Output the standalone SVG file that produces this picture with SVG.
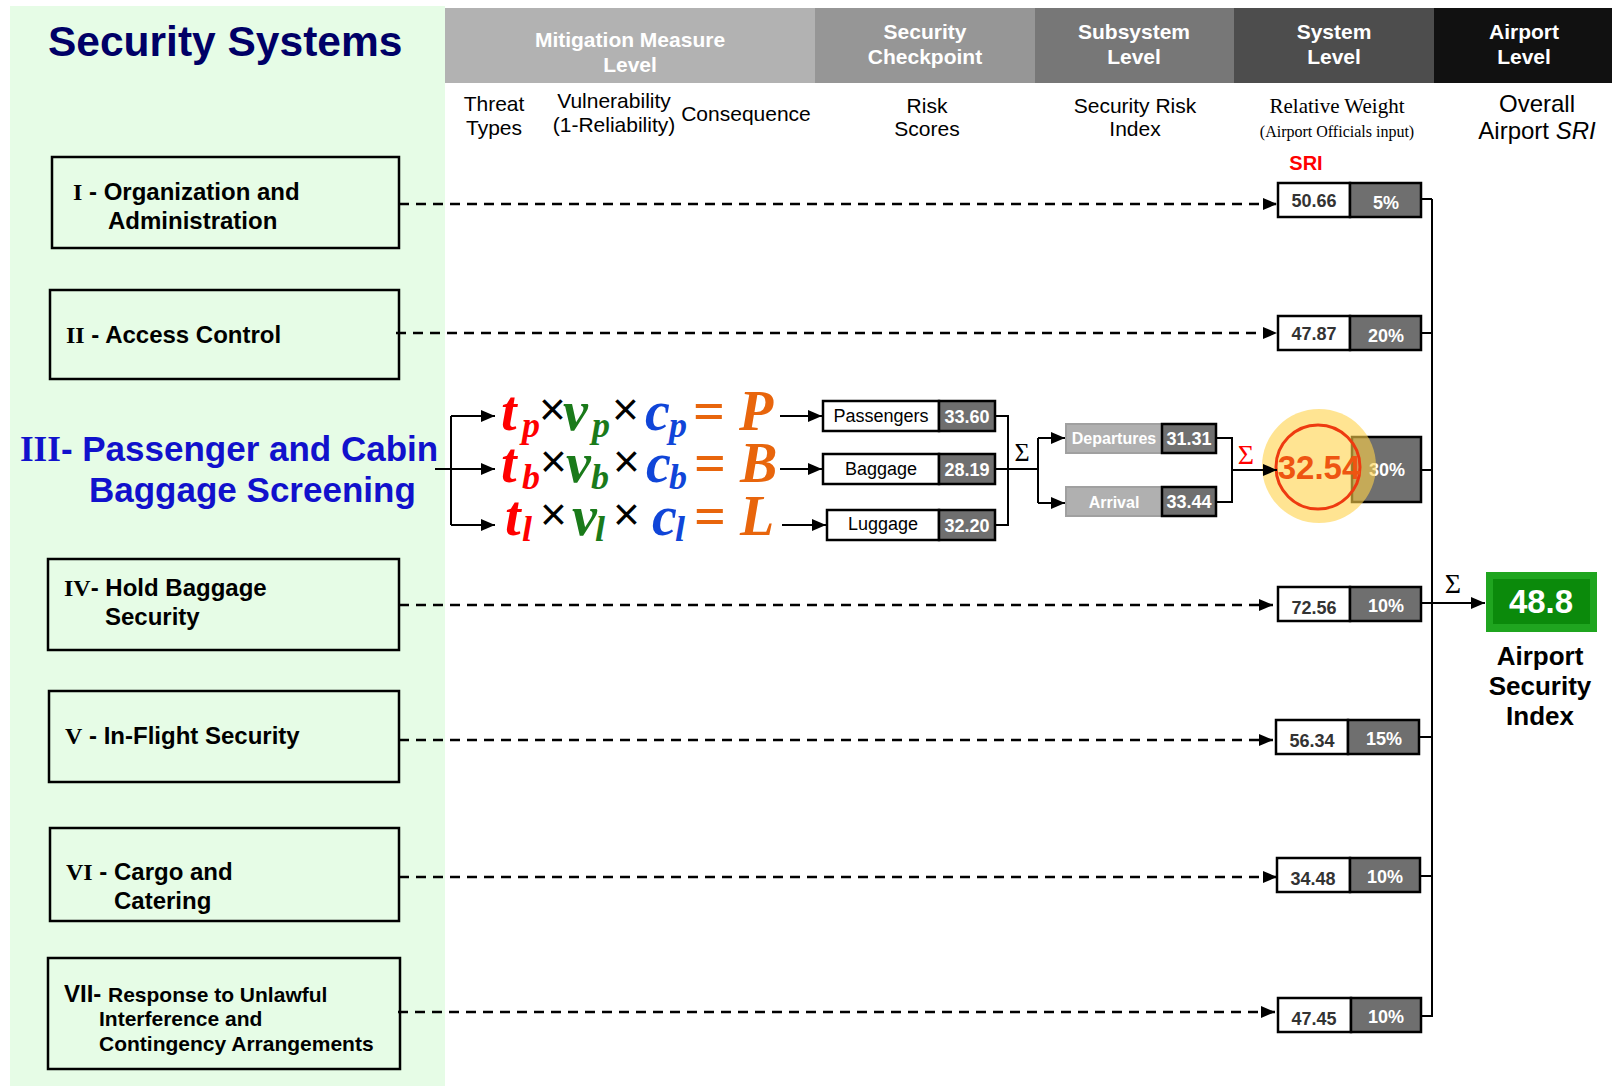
<svg xmlns="http://www.w3.org/2000/svg" width="1612" height="1086" viewBox="0 0 1612 1086">
<style>
.hdr{font-family:"Liberation Sans",Arial,sans-serif;font-weight:bold;font-size:21px;fill:#fff;text-anchor:middle}
.sub{font-family:"Liberation Sans",Arial,sans-serif;font-size:21px;fill:#000;text-anchor:middle}
.ser{font-family:"Liberation Serif","Times New Roman",serif}
.box{fill:none;stroke:#000;stroke-width:2.5}
.lbl{font-family:"Liberation Sans",Arial,sans-serif;font-weight:bold;font-size:24px;fill:#000}
.rn{font-family:"Liberation Serif","Times New Roman",serif;font-weight:bold}
.dash{stroke:#000;stroke-width:2.5;stroke-dasharray:10 7;fill:none}
.ln{stroke:#000;stroke-width:2;fill:none}
.wb{fill:#fff;stroke:#000;stroke-width:2.5}
.db{fill:#6f6f6f;stroke:#000;stroke-width:2.5}
.num{font-family:"Liberation Sans",Arial,sans-serif;font-weight:bold;font-size:18px;fill:#333;text-anchor:middle}
.pct{font-family:"Liberation Sans",Arial,sans-serif;font-weight:bold;font-size:18px;fill:#fff;text-anchor:middle}
.ck{font-family:"Liberation Sans",Arial,sans-serif;font-size:18px;fill:#000;text-anchor:middle}
.f{font-family:"Liberation Serif","Times New Roman",serif;font-weight:bold;font-style:italic;font-size:56px}
.s{font-size:36px}
.x{font-family:"Liberation Sans",Arial,sans-serif;font-size:46px;fill:#000;font-style:normal;font-weight:normal}
.t{fill:#ff0000}.v{fill:#1a7a1a}.c{fill:#1045d8}.o{fill:#e8650c}
</style>
<defs>
<marker id="ah" viewBox="0 0 14 12" refX="14" refY="6" markerWidth="14" markerHeight="12" markerUnits="userSpaceOnUse" orient="auto"><path d="M0,0 L14,6 L0,12 z" fill="#000"/></marker>
</defs>
<rect x="0" y="0" width="1612" height="1086" fill="#fff"/>
<rect x="10" y="6" width="435" height="1080" fill="#e6fce6"/>

<g id="header">
<rect x="445" y="8" width="370" height="75" fill="#b2b2b2"/>
<rect x="815" y="8" width="220" height="75" fill="#969696"/>
<rect x="1035" y="8" width="199" height="75" fill="#777"/>
<rect x="1234" y="8" width="200" height="75" fill="#4d4d4d"/>
<rect x="1434" y="8" width="178" height="75" fill="#111"/>
<text class="hdr" x="630" y="47">Mitigation Measure</text>
<text class="hdr" x="630" y="72">Level</text>
<text class="hdr" x="925" y="39">Security</text>
<text class="hdr" x="925" y="64">Checkpoint</text>
<text class="hdr" x="1134" y="39">Subsystem</text>
<text class="hdr" x="1134" y="64">Level</text>
<text class="hdr" x="1334" y="39">System</text>
<text class="hdr" x="1334" y="64">Level</text>
<text class="hdr" x="1524" y="39">Airport</text>
<text class="hdr" x="1524" y="64">Level</text>
<text class="sub" x="494" y="111">Threat</text>
<text class="sub" x="494" y="135">Types</text>
<text class="sub" x="614" y="108">Vulnerability</text>
<text class="sub" x="614" y="132">(1-Reliability)</text>
<text class="sub" x="746" y="121">Consequence</text>
<text class="sub" x="927" y="113">Risk</text>
<text class="sub" x="927" y="136">Scores</text>
<text class="sub" x="1135" y="113">Security Risk</text>
<text class="sub" x="1135" y="136">Index</text>
<text class="sub ser" x="1337" y="113">Relative Weight</text>
<text class="sub ser" x="1337" y="137" style="font-size:16px">(Airport Officials input)</text>
<text class="sub" x="1537" y="112" style="font-size:24px">Overall</text>
<text class="sub" x="1537" y="139" style="font-size:24px">Airport <tspan font-style="italic">SRI</tspan></text>
<text x="48" y="56" font-family="Liberation Sans,Arial,sans-serif" font-weight="bold" font-size="42.5" fill="#000066">Security Systems</text>
<text x="1306" y="170" font-family="Liberation Sans,Arial,sans-serif" font-weight="bold" font-size="20" fill="#ff0000" text-anchor="middle">SRI</text>
</g>

<g id="sys1"><rect class="box" x="52" y="157" width="347" height="91"/>
<text class="lbl" x="73" y="200"><tspan class="rn">I</tspan> - Organization and</text>
<text class="lbl" x="108" y="229">Administration</text></g>
<g id="sys2"><rect class="box" x="50" y="290" width="349" height="89"/>
<text class="lbl" x="66" y="343"><tspan class="rn">II</tspan> - Access Control</text></g>
<g id="sys3">
<text x="20" y="461" font-family="Liberation Sans,Arial,sans-serif" font-weight="bold" font-size="35" fill="#1111cc"><tspan class="rn">III</tspan>- Passenger and Cabin</text>
<text x="89" y="502" font-family="Liberation Sans,Arial,sans-serif" font-weight="bold" font-size="35" fill="#1111cc">Baggage Screening</text></g>
<g id="sys4"><rect class="box" x="48" y="559" width="351" height="91"/>
<text class="lbl" x="64" y="596"><tspan class="rn">IV</tspan>- Hold Baggage</text>
<text class="lbl" x="105" y="625">Security</text></g>
<g id="sys5"><rect class="box" x="49" y="691" width="350" height="91"/>
<text class="lbl" x="65" y="744"><tspan class="rn">V</tspan> - In-Flight Security</text></g>
<g id="sys6"><rect class="box" x="50" y="828" width="349" height="93"/>
<text class="lbl" x="66" y="880"><tspan class="rn">VI</tspan> - Cargo and</text>
<text class="lbl" x="114" y="909">Catering</text></g>
<g id="sys7"><rect class="box" x="48" y="958" width="352" height="111"/>
<text class="lbl" x="64" y="1002">VII- <tspan style="font-size:21px">Response to Unlawful</tspan></text>
<text class="lbl" x="99" y="1026" style="font-size:21px">Interference and</text>
<text class="lbl" x="99" y="1051" style="font-size:21px">Contingency Arrangements</text></g>

<g id="formulas">
<text class="f"><tspan class="t" x="501" y="430">t</tspan><tspan class="t s" x="522" y="437">p</tspan><tspan class="x" x="539" y="425">×</tspan><tspan class="v" x="563" y="430">v</tspan><tspan class="v s" x="592" y="437">p</tspan><tspan class="x" x="612" y="425">×</tspan><tspan class="c" x="645" y="430">c</tspan><tspan class="c s" x="669" y="437">p</tspan><tspan class="o" x="693" y="430" font-style="normal">=</tspan><tspan class="o" x="739" y="430">P</tspan></text>
<text class="f"><tspan class="t" x="501" y="482">t</tspan><tspan class="t s" x="522" y="489">b</tspan><tspan class="x" x="540" y="477">×</tspan><tspan class="v" x="566" y="482">v</tspan><tspan class="v s" x="591" y="489">b</tspan><tspan class="x" x="613" y="477">×</tspan><tspan class="c" x="646" y="482">c</tspan><tspan class="c s" x="669" y="489">b</tspan><tspan class="o" x="694" y="482" font-style="normal">=</tspan><tspan class="o" x="740" y="482">B</tspan></text>
<text class="f"><tspan class="t" x="505" y="535">t</tspan><tspan class="t s" x="522" y="541">l</tspan><tspan class="x" x="540" y="530">×</tspan><tspan class="v" x="572" y="535">v</tspan><tspan class="v s" x="595" y="541">l</tspan><tspan class="x" x="613" y="530">×</tspan><tspan class="c" x="652" y="535">c</tspan><tspan class="c s" x="675" y="541">l</tspan><tspan class="o" x="694" y="535" font-style="normal">=</tspan><tspan class="o" x="740" y="535">L</tspan></text>
</g>

<g id="checkpoints">
<rect class="wb" x="823" y="401" width="116" height="30"/><rect class="db" x="939" y="401" width="56" height="30"/>
<text class="ck" x="881" y="422">Passengers</text><text class="pct" x="967" y="423">33.60</text>
<rect class="wb" x="823" y="454" width="116" height="30"/><rect class="db" x="939" y="454" width="56" height="30"/>
<text class="ck" x="881" y="475">Baggage</text><text class="pct" x="967" y="476">28.19</text>
<rect class="wb" x="827" y="510" width="112" height="30"/><rect class="db" x="939" y="510" width="56" height="30"/>
<text class="ck" x="883" y="530">Luggage</text><text class="pct" x="967" y="532">32.20</text>
</g>

<g id="subsystems">
<rect x="1066" y="424" width="96" height="29" fill="#b0b0b0" stroke="#a0a0a0" stroke-width="2"/><rect class="db" x="1162" y="424" width="54" height="29"/>
<text class="pct" x="1114" y="444" style="font-size:16px">Departures</text><text class="pct" x="1189" y="445">31.31</text>
<rect x="1066" y="487" width="96" height="29" fill="#b0b0b0" stroke="#a0a0a0" stroke-width="2"/><rect class="db" x="1162" y="487" width="54" height="29"/>
<text class="pct" x="1114" y="508" style="font-size:16px">Arrival</text><text class="pct" x="1189" y="508">33.44</text>
</g>

<g id="sri">
<rect class="wb" x="1278" y="183" width="72" height="34"/><rect class="db" x="1350" y="183" width="71" height="34"/>
<text class="num" x="1314" y="207">50.66</text><text class="pct" x="1386" y="209">5%</text>
<rect class="wb" x="1278" y="316" width="72" height="34"/><rect class="db" x="1350" y="316" width="71" height="34"/>
<text class="num" x="1314" y="340">47.87</text><text class="pct" x="1386" y="342">20%</text>
<rect class="db" x="1352" y="437" width="69" height="65"/>
<text class="pct" x="1387" y="476">30%</text>
<circle cx="1319" cy="466" r="57" fill="#ffd24a" fill-opacity="0.6"/>
<circle cx="1318" cy="467" r="42" fill="none" stroke="#ee3a10" stroke-width="3"/>
<text x="1319" y="479" font-family="Liberation Sans,Arial,sans-serif" font-weight="bold" font-size="33" fill="#ee5511" text-anchor="middle">32.54</text>
<rect class="wb" x="1278" y="587" width="72" height="34"/><rect class="db" x="1350" y="587" width="71" height="34"/>
<text class="num" x="1314" y="614">72.56</text><text class="pct" x="1386" y="612">10%</text>
<rect class="wb" x="1276" y="720" width="72" height="34"/><rect class="db" x="1348" y="720" width="71" height="34"/>
<text class="num" x="1312" y="747">56.34</text><text class="pct" x="1384" y="745">15%</text>
<rect class="wb" x="1277" y="858" width="73" height="34"/><rect class="db" x="1350" y="858" width="70" height="34"/>
<text class="num" x="1313" y="885">34.48</text><text class="pct" x="1385" y="883">10%</text>
<rect class="wb" x="1278" y="998" width="73" height="34"/><rect class="db" x="1351" y="998" width="70" height="34"/>
<text class="num" x="1314" y="1025">47.45</text><text class="pct" x="1386" y="1023">10%</text>
</g>

<g id="asi">
<rect x="1486" y="572" width="111" height="60" fill="#1fa51f"/>
<rect x="1493" y="579" width="97" height="45" fill="#0b8a0b"/>
<text x="1541" y="613" font-family="Liberation Sans,Arial,sans-serif" font-weight="bold" font-size="33" fill="#fff" text-anchor="middle">48.8</text>
<text x="1540" y="665" font-family="Liberation Sans,Arial,sans-serif" font-weight="bold" font-size="26" text-anchor="middle">Airport</text>
<text x="1540" y="695" font-family="Liberation Sans,Arial,sans-serif" font-weight="bold" font-size="26" text-anchor="middle">Security</text>
<text x="1540" y="725" font-family="Liberation Sans,Arial,sans-serif" font-weight="bold" font-size="26" text-anchor="middle">Index</text>
</g>

<g id="connectors">
<line class="dash" x1="399" y1="204" x2="1277" y2="204" marker-end="url(#ah)"/>
<line class="dash" x1="396" y1="333" x2="1277" y2="333" marker-end="url(#ah)"/>
<line class="dash" x1="399" y1="605" x2="1273" y2="605" marker-end="url(#ah)"/>
<line class="dash" x1="399" y1="740" x2="1273" y2="740" marker-end="url(#ah)"/>
<line class="dash" x1="399" y1="877" x2="1277" y2="877" marker-end="url(#ah)"/>
<line class="dash" x1="398" y1="1012" x2="1275" y2="1012" marker-end="url(#ah)"/>
<path class="ln" d="M435,469 H451 M451,416 V525"/>
<line class="ln" x1="451" y1="416" x2="495" y2="416" marker-end="url(#ah)"/>
<line class="ln" x1="451" y1="469" x2="495" y2="469" marker-end="url(#ah)"/>
<line class="ln" x1="451" y1="525" x2="495" y2="525" marker-end="url(#ah)"/>
<line class="ln" x1="780" y1="416" x2="822" y2="416" marker-end="url(#ah)"/>
<line class="ln" x1="780" y1="469" x2="822" y2="469" marker-end="url(#ah)"/>
<line class="ln" x1="782" y1="525" x2="826" y2="525" marker-end="url(#ah)"/>
<path class="ln" d="M995,416 H1008 V525 H995 M995,469 H1038 M1038,438 V503"/>
<line class="ln" x1="1038" y1="438" x2="1065" y2="438" marker-end="url(#ah)"/>
<line class="ln" x1="1038" y1="503" x2="1065" y2="503" marker-end="url(#ah)"/>
<text x="1022" y="461" font-family="Liberation Serif,Times New Roman,serif" font-size="26" text-anchor="middle">Σ</text>
<path class="ln" d="M1216,438 H1232 V502 H1216"/>
<line class="ln" x1="1232" y1="470" x2="1277" y2="470" marker-end="url(#ah)"/>
<text x="1246" y="464" font-family="Liberation Serif,Times New Roman,serif" font-size="28" fill="#ff0000" text-anchor="middle">Σ</text>
<path class="ln" d="M1432,199 V1017 M1421,199 H1432 M1421,333 H1432 M1421,470 H1432 M1421,603 H1432 M1419,737 H1432 M1420,876 H1432 M1421,1016 H1432"/>
<line class="ln" x1="1432" y1="603" x2="1485" y2="603" marker-end="url(#ah)"/>
<text x="1453" y="593" font-family="Liberation Serif,Times New Roman,serif" font-size="28" text-anchor="middle">Σ</text>
</g>
</svg>
